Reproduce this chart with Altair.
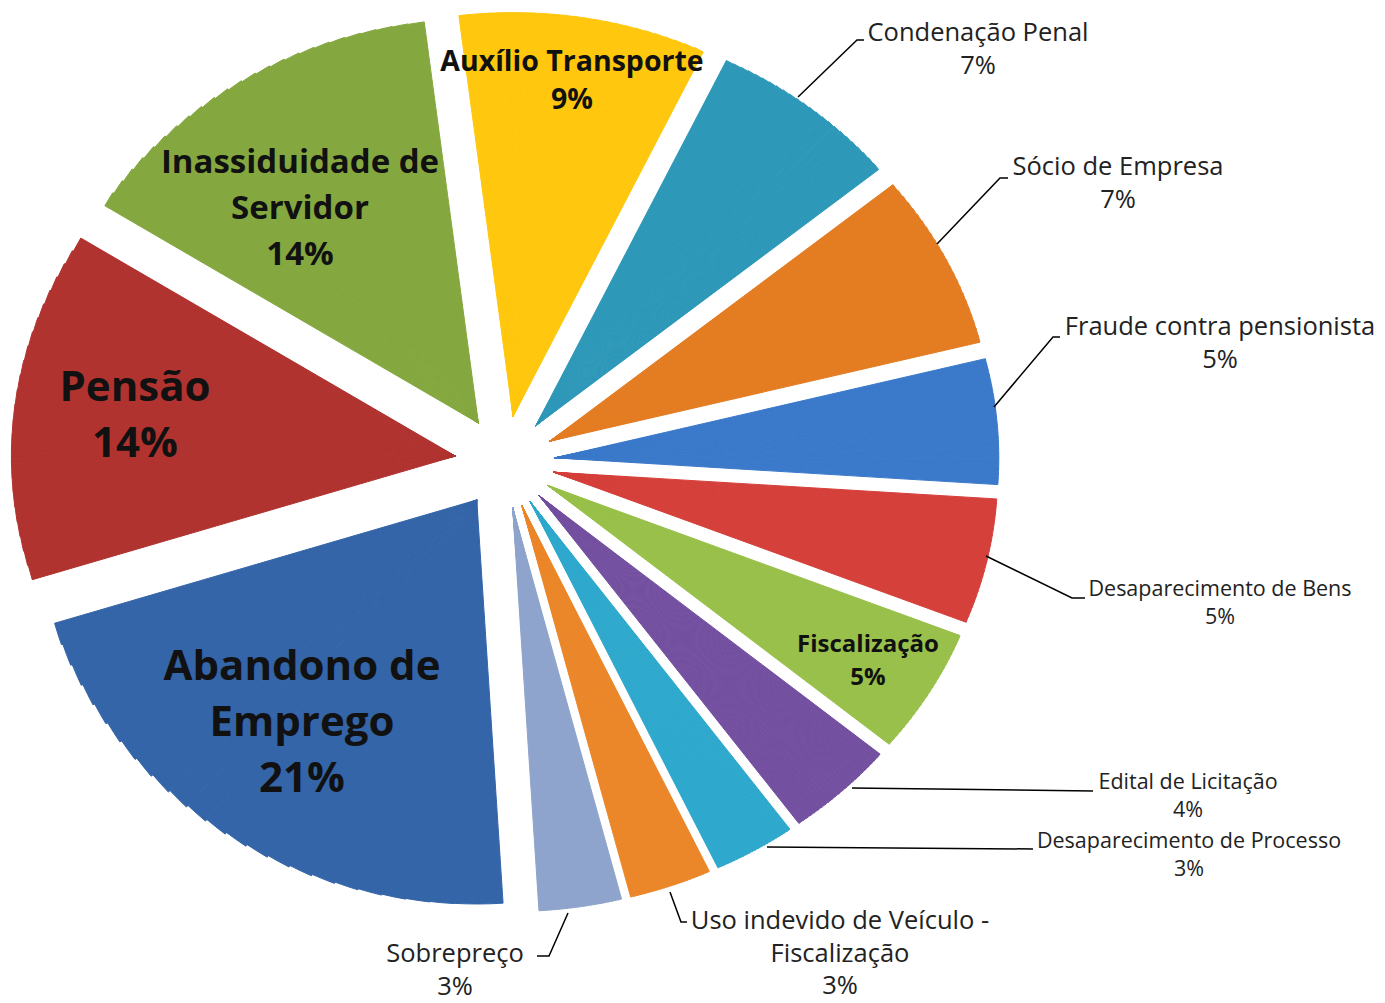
import math
import altair as alt
import pandas as pd

# ---------------- data ----------------
CATEGORIES = [
    "Auxílio Transporte", "Condenação Penal", "Sócio de Empresa",
    "Fraude contra pensionista", "Desaparecimento de Bens", "Fiscalização",
    "Edital de Licitação", "Desaparecimento de Processo",
    "Uso indevido de Veículo - Fiscalização", "Sobrepreço",
    "Abandono de Emprego", "Pensão", "Inassiduidade de Servidor",
]
PERCENTS = [9, 7, 7, 5, 5, 5, 4, 3, 3, 3, 21, 14, 14]
LABEL_NAMES = [
    "Auxílio Transporte", "Condenação Penal", "Sócio de Empresa",
    "Fraude contra pensionista", "Desaparecimento de Bens", "Fiscalização",
    "Edital de Licitação", "Desaparecimento de Processo",
    "Uso indevido de Veículo -\nFiscalização", "Sobrepreço",
    "Abandono de\nEmprego", "Pensão", "Inassiduidade de\nServidor",
]

# ---------------- style ----------------
COLORS = [
    "#FFC70D", "#2E98B9", "#E47C22", "#3B79CA", "#D5403B", "#98C04A",
    "#7450A0", "#2EA9CD", "#EB8629", "#8FA4CC", "#3465A8", "#B03330",
    "#84A83F",
]

W, H = 1369, 995
OFF = 8                      # page margin: reference pixel = OFF + chart pixel
CX, CY = 505, 462            # pie centre (reference pixels)
EX, EY = 50, 46              # explode offset (tilted pie)
RX, RY = 444, 404            # tilted pie: horizontal / vertical radius
START = 2 * math.pi + math.radians(-7)
SUBDIV = 24                  # each slice drawn as thin sub-arcs to follow the ellipse

# label layout: centre of the first text line (reference pixels) and style key
LABEL_LAYOUT = {
    "Auxílio Transporte": (572, 62, "b28"),
    "Inassiduidade de Servidor": (300, 163, "b33"),
    "Pensão": (135, 388, "b42"),
    "Abandono de Emprego": (302, 667, "b42"),
    "Fiscalização": (868, 645, "b24"),
    "Condenação Penal": (978, 33, "r25"),
    "Sócio de Empresa": (1118, 167, "r25"),
    "Fraude contra pensionista": (1220, 327, "r25"),
    "Uso indevido de Veículo - Fiscalização": (840, 921, "r25"),
    "Sobrepreço": (455, 954, "r25"),
    "Desaparecimento de Bens": (1220, 590, "r21"),
    "Edital de Licitação": (1188, 783, "r21"),
    "Desaparecimento de Processo": (1189, 842, "r21"),
}
STYLES = {
    "b28": dict(fontSize=28.5, fontWeight="bold", lineHeight=38, color="#111111"),
    "b33": dict(fontSize=33, fontWeight="bold", lineHeight=46, color="#111111"),
    "b42": dict(fontSize=42, fontWeight="bold", lineHeight=56, color="#111111"),
    "b24": dict(fontSize=24, fontWeight="bold", lineHeight=33, color="#111111"),
    "r25": dict(fontSize=25.5, fontWeight="normal", lineHeight=32.5, color="#222222"),
    "r21": dict(fontSize=21.5, fontWeight="normal", lineHeight=28, color="#222222"),
}
# leader lines (reference pixels)
LEADERS = {
    "Condenação Penal": [(798, 97), (857, 40), (864, 40)],
    "Sócio de Empresa": [(937, 244), (1000, 178), (1008, 178)],
    "Fraude contra pensionista": [(994, 407), (1053, 337), (1060, 337)],
    "Desaparecimento de Bens": [(986, 556), (1072, 598), (1085, 598)],
    "Edital de Licitação": [(852, 788), (1093, 791)],
    "Desaparecimento de Processo": [(767, 847), (1033, 849)],
    "Uso indevido de Veículo - Fiscalização": [(670, 892), (681, 922), (687, 922)],
    "Sobrepreço": [(568, 913), (549, 956), (537, 956)],
}

FONT = "Open Sans"

# ---------------- tables ----------------
pie_df = pd.DataFrame({
    "cat": CATEGORIES,
    "pct": PERCENTS,
    "order": list(range(len(CATEGORIES))),
})

label_rows = []
for cat, name, pct in zip(CATEGORIES, LABEL_NAMES, PERCENTS):
    lx, ly, st = LABEL_LAYOUT[cat]
    label_rows.append({"cat": cat, "text": f"{name}\n{pct}%", "lx": lx, "ly": ly, "style": st})
label_df = pd.DataFrame(label_rows)

leader_rows = []
for cat, pts in LEADERS.items():
    for i, (px, py) in enumerate(pts):
        leader_rows.append({"cat": cat, "i": i, "px": px, "py": py})
leader_df = pd.DataFrame(leader_rows)

# ---------------- scales ----------------
xs = alt.Scale(domain=[OFF, OFF + W], nice=False, zero=False)
ys = alt.Scale(domain=[OFF, OFF + H], nice=False, zero=False, reverse=True)
ident = alt.Scale(type="linear", domain=[0, 2000], range=[0, 2000], zero=True, nice=False)


def vis(t):
    # visual angle of parametric angle t on the tilted (elliptical) pie
    raw = f"atan2({RX}*sin({t}), {RY}*cos({t}))"
    return f"{raw} + 2*PI*round(({t} - ({raw}))/(2*PI))"


pie = (
    alt.Chart(pie_df)
    .transform_window(cum="sum(pct)", sort=[alt.SortField("order")])
    .transform_calculate(sub=f"sequence(0, {SUBDIV})")
    .transform_flatten(["sub"])
    .transform_calculate(
        s0="datum.cum - datum.pct",
        tslice=f"{START} + 2*PI*(datum.cum - datum.pct/2)/100",
    )
    .transform_calculate(
        t0=f"{START} + 2*PI*(datum.s0 + datum.pct*datum.sub/{SUBDIV})/100",
        t1=f"{START} + 2*PI*(datum.s0 + datum.pct*(datum.sub+1)/{SUBDIV})/100",
        tm=f"{START} + 2*PI*(datum.s0 + datum.pct*(datum.sub+0.5)/{SUBDIV})/100",
    )
    .transform_calculate(
        v0=vis("datum.t0"),
        v1=vis("datum.t1"),
        r=f"sqrt(pow({RX}*sin(datum.tm),2) + pow({RY}*cos(datum.tm),2))",
        cx=f"{CX} + {EX}*sin(datum.tslice)",
        cy=f"{CY} - {EY}*cos(datum.tslice)",
    )
    .mark_arc(strokeWidth=1, strokeJoin="round")
    .encode(
        x=alt.X("cx:Q", scale=xs, axis=None),
        y=alt.Y("cy:Q", scale=ys, axis=None),
        theta=alt.Theta("v0:Q", scale=ident, stack=None),
        theta2="v1:Q",
        radius=alt.Radius("r:Q", scale=ident),
        color=alt.Color("cat:N", scale=alt.Scale(domain=CATEGORIES, range=COLORS), legend=None),
        stroke=alt.Stroke("cat:N", scale=alt.Scale(domain=CATEGORIES, range=COLORS), legend=None),
    )
)

leaders = (
    alt.Chart(leader_df)
    .mark_line(color="#000000", strokeWidth=1.5)
    .encode(
        x=alt.X("px:Q", scale=xs, axis=None),
        y=alt.Y("py:Q", scale=ys, axis=None),
        detail="cat:N",
        order="i:Q",
    )
)

layers = [pie, leaders]
for key, st in STYLES.items():
    layers.append(
        alt.Chart(label_df)
        .transform_filter(alt.datum.style == key)
        .mark_text(
            font=FONT, fontSize=st["fontSize"], fontWeight=st["fontWeight"],
            lineHeight=st["lineHeight"], lineBreak="\n", align="center",
            baseline="middle", color=st["color"],
        )
        .encode(
            x=alt.X("lx:Q", scale=xs, axis=None),
            y=alt.Y("ly:Q", scale=ys, axis=None),
            text="text:N",
        )
    )

chart = (
    alt.layer(*layers)
    .resolve_scale(theta="shared", radius="shared")
    .properties(width=W, height=H, padding=0, autosize=alt.AutoSizeParams(type="none"), background="#ffffff")
    .configure_view(stroke=None)
)

chart.save("out.html", embed_options={"renderer": "svg", "actions": False})
